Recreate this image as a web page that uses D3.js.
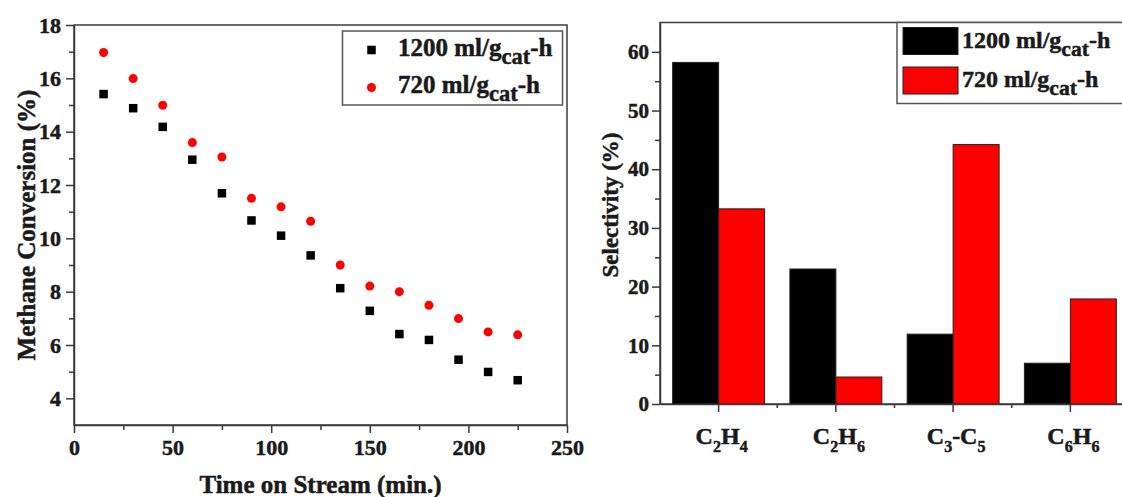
<!DOCTYPE html>
<html>
<head>
<meta charset="utf-8">
<script src="https://cdn.jsdelivr.net/npm/d3@7"></script>
<style>
  body { margin: 0; background: #fff; }
  .axis path, .axis line { stroke: #3a3a3a; stroke-width: 1.5; }
</style>
</head>
<body>
<svg id="chart" width="1122" height="497"></svg>
<script>
// left panel: methane conversion vs time on stream
var timeMin = [15, 30, 45, 60, 75, 90, 105, 120, 135, 150, 165, 180, 195, 210, 225];
var conv1200 = [15.41, 14.88, 14.18, 12.95, 11.69, 10.67, 10.1, 9.36, 8.13, 7.28, 6.41, 6.19, 5.45, 4.99, 4.68];
var conv720 = [16.97, 15.99, 14.99, 13.59, 13.05, 11.5, 11.18, 10.64, 9.0, 8.21, 8.0, 7.49, 6.99, 6.49, 6.38];
var xTicksLeft = [0, 50, 100, 150, 200, 250];
var yTicksLeft = [4, 6, 8, 10, 12, 14, 16, 18];

// right panel: product selectivity
var products = ["C2H4", "C2H6", "C3-C5", "C6H6"];
var productLabels = [["C", "2", "H", "4"], ["C", "2", "H", "6"], ["C", "3", "-C", "5"], ["C", "6", "H", "6"]];
var sel1200 = [58.2, 23.0, 11.9, 6.95];
var sel720 = [33.25, 4.6, 44.2, 17.9];
var yTicksRight = [0, 10, 20, 30, 40, 50, 60];

var seriesNames = ["1200", "720"];
var colors = {"1200": "#000000", "720": "#ff0000"};
var FONT = "'Liberation Serif', 'Times New Roman', serif";

var svg = d3.select("#chart");

// legend text "1200 ml/g_cat-h"
function legendText(sel, num, size) {
    sel.append("tspan").text(num + " ml/g");
    sel.append("tspan").attr("dy", size * 0.32).style("font-size", (size * 0.9) + "px").text("cat");
    sel.append("tspan").attr("dy", -size * 0.32).text("-h");
}

// ---------- left chart ----------
var L = {left: 74, right: 567, top: 25, bottom: 425};
var x = d3.scaleLinear().domain([0, 250]).range([L.left, L.right]);
var y = d3.scaleLinear().domain([3, 18]).range([L.bottom, L.top]);

svg.append("rect")
    .attr("x", L.left).attr("y", L.top)
    .attr("width", L.right - L.left).attr("height", L.bottom - L.top)
    .attr("fill", "none").attr("stroke", "#3a3a3a").attr("stroke-width", 1.5);

var gx = svg.append("g").attr("class", "axis")
    .attr("transform", "translate(0," + L.bottom + ")")
    .call(d3.axisBottom(x).tickValues(xTicksLeft).tickSize(8).tickSizeOuter(0).tickPadding(6));
gx.selectAll("text").style("font-size", "22px");
svg.append("g").attr("class", "axis")
    .attr("transform", "translate(0," + L.bottom + ")")
    .call(d3.axisBottom(x).tickValues([25, 75, 125, 175, 225]).tickSize(5).tickFormat(""))
    .select(".domain").remove();

var gy = svg.append("g").attr("class", "axis")
    .attr("transform", "translate(" + L.left + ",0)")
    .call(d3.axisLeft(y).tickValues(yTicksLeft).tickSize(8).tickSizeOuter(0).tickPadding(5));
gy.selectAll("text").style("font-size", "22px");
svg.append("g").attr("class", "axis")
    .attr("transform", "translate(" + L.left + ",0)")
    .call(d3.axisLeft(y).tickValues([5, 7, 9, 11, 13, 15, 17]).tickSize(5).tickFormat(""))
    .select(".domain").remove();

svg.append("text")
    .attr("transform", "translate(26," + ((L.top + L.bottom) / 2) + ") rotate(-90)")
    .attr("text-anchor", "middle").attr("dy", "0.35em")
    .style("font-size", "25px")
    .text("Methane Conversion (%)");

svg.append("text")
    .attr("x", (L.left + L.right) / 2).attr("y", 493)
    .attr("text-anchor", "middle")
    .style("font-size", "25px")
    .text("Time on Stream (min.)");

var sq = 8.5;
svg.append("g").selectAll("rect")
    .data(timeMin)
    .enter().append("rect")
    .attr("x", function(d) { return x(d) - sq / 2; })
    .attr("y", function(d, i) { return y(conv1200[i]) - sq / 2; })
    .attr("width", sq).attr("height", sq)
    .attr("fill", colors["1200"]);

svg.append("g").selectAll("circle")
    .data(timeMin)
    .enter().append("circle")
    .attr("cx", function(d) { return x(d); })
    .attr("cy", function(d, i) { return y(conv720[i]); })
    .attr("r", 4.5)
    .attr("fill", colors["720"]);

// left legend
var lg = svg.append("g");
lg.append("rect").attr("x", 342.5).attr("y", 31).attr("width", 220).attr("height", 74)
    .attr("fill", "#fff").attr("stroke", "#555").attr("stroke-width", 1.5);
lg.append("rect").attr("x", 371.5 - sq / 2).attr("y", 50 - sq / 2).attr("width", sq).attr("height", sq)
    .attr("fill", colors["1200"]);
lg.append("circle").attr("cx", 371.5).attr("cy", 87.5).attr("r", 4.5).attr("fill", colors["720"]);
legendText(lg.append("text").attr("x", 398).attr("y", 56).style("font-size", "25px"), "1200", 25);
legendText(lg.append("text").attr("x", 398).attr("y", 93).style("font-size", "25px"), "720", 25);

// ---------- right chart ----------
var R = {left: 660, right: 1129, top: 22.5, bottom: 404};
var x0 = d3.scaleBand().domain(products).range([R.left, R.right]).padding(0);
var x1 = d3.scaleBand().domain(seriesNames).range([0, x0.bandwidth()]).paddingInner(0).paddingOuter(0.275);
var yr = d3.scaleLinear().domain([0, 65]).range([R.bottom, R.top]);

svg.append("rect")
    .attr("x", R.left).attr("y", R.top)
    .attr("width", R.right - R.left).attr("height", R.bottom - R.top)
    .attr("fill", "none").attr("stroke", "#3a3a3a").attr("stroke-width", 1.5);

var groups = svg.append("g").selectAll("g")
    .data(products)
    .enter().append("g")
    .attr("transform", function(d) { return "translate(" + x0(d) + ",0)"; });

groups.selectAll("rect")
    .data(function(d, i) { return [{s: "1200", v: sel1200[i]}, {s: "720", v: sel720[i]}]; })
    .enter().append("rect")
    .attr("x", function(d) { return x1(d.s); })
    .attr("y", function(d) { return yr(d.v); })
    .attr("width", x1.bandwidth())
    .attr("height", function(d) { return R.bottom - yr(d.v); })
    .attr("fill", function(d) { return colors[d.s]; })
    .attr("stroke", "#222").attr("stroke-width", 1);

svg.append("g").attr("class", "axis")
    .attr("transform", "translate(0," + R.bottom + ")")
    .call(d3.axisBottom(x0).tickSize(8).tickSizeOuter(0).tickFormat(""));
// minor ticks at category boundaries
svg.append("g").attr("class", "axis").selectAll("line")
    .data(products.slice(1))
    .enter().append("line")
    .attr("x1", function(d) { return x0(d); }).attr("x2", function(d) { return x0(d); })
    .attr("y1", R.bottom).attr("y2", R.bottom + 4);

svg.append("g").selectAll("text")
    .data(products)
    .enter().append("text")
    .attr("x", function(d) { return x0(d) + x0.bandwidth() / 2 + 3; })
    .attr("y", 444)
    .attr("text-anchor", "middle")
    .style("font-size", "24px")
    .each(function(d, i) {
        var t = d3.select(this), p = productLabels[i];
        t.append("tspan").text(p[0]);
        t.append("tspan").attr("dy", 8).style("font-size", "16px").text(p[1]);
        t.append("tspan").attr("dy", -8).text(p[2]);
        t.append("tspan").attr("dy", 8).style("font-size", "16px").text(p[3]);
    });

var gyr = svg.append("g").attr("class", "axis")
    .attr("transform", "translate(" + R.left + ",0)")
    .call(d3.axisLeft(yr).tickValues(yTicksRight).tickSize(8).tickSizeOuter(0).tickPadding(3));
gyr.selectAll("text").style("font-size", "21px");
svg.append("g").attr("class", "axis")
    .attr("transform", "translate(" + R.left + ",0)")
    .call(d3.axisLeft(yr).tickValues([5, 15, 25, 35, 45, 55]).tickSize(5).tickFormat(""))
    .select(".domain").remove();

svg.append("text")
    .attr("transform", "translate(610,205) rotate(-90)")
    .attr("text-anchor", "middle").attr("dy", "0.35em")
    .style("font-size", "23px")
    .text("Selectivity (%)");

// right legend
var rg = svg.append("g");
rg.append("rect").attr("x", 897).attr("y", 22.5).attr("width", 240).attr("height", 81)
    .attr("fill", "#fff").attr("stroke", "#555").attr("stroke-width", 1.5);
rg.append("rect").attr("x", 903).attr("y", 27.5).attr("width", 55).attr("height", 27)
    .attr("fill", colors["1200"]).attr("stroke", "#222");
rg.append("rect").attr("x", 903).attr("y", 67).attr("width", 55).attr("height", 27)
    .attr("fill", colors["720"]).attr("stroke", "#222");
legendText(rg.append("text").attr("x", 962).attr("y", 48).style("font-size", "24px"), "1200", 24);
legendText(rg.append("text").attr("x", 962).attr("y", 87).style("font-size", "24px"), "720", 24);

// every text in heavy serif bold, overriding the axis defaults
svg.selectAll("text")
    .style("font-family", FONT)
    .style("font-weight", "bold")
    .attr("fill", "#1a1a1a")
    .attr("stroke", "#1a1a1a")
    .attr("stroke-width", 0.5);
</script>
</body>
</html>
